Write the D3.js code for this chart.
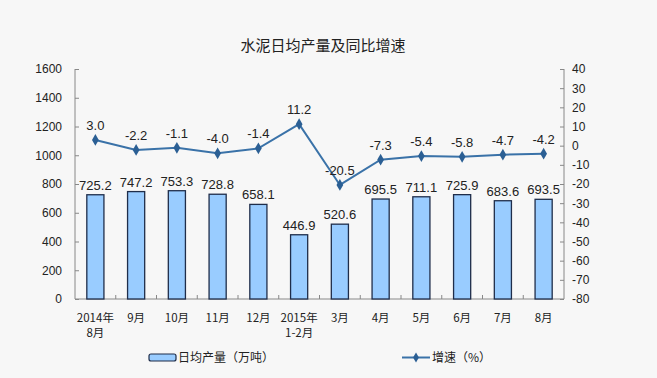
<!DOCTYPE html>
<html><head><meta charset="utf-8">
<script src="https://cdn.jsdelivr.net/npm/d3@7"></script>
<style>
body{margin:0;background:#f7f7f7;}
svg{display:block;}
text{font-family:"Liberation Sans",Arial,"Noto Sans CJK SC",sans-serif;}
.cjk{font-family:"Noto Sans CJK SC",sans-serif;}
</style></head>
<body>
<svg id="c" width="657" height="378"></svg>
<script>
const categories = [["2014年","8月"],["9月"],["10月"],["11月"],["12月"],["2015年","1-2月"],["3月"],["4月"],["5月"],["6月"],["7月"],["8月"]];
const output = [725.2,747.2,753.3,728.8,658.1,446.9,520.6,695.5,711.1,725.9,683.6,693.5];
const growth = [3.0,-2.2,-1.1,-4.0,-1.4,11.2,-20.5,-7.3,-5.4,-5.8,-4.7,-4.2];
const leftTicks = [0,200,400,600,800,1000,1200,1400,1600];
const rightTicks = [-80,-70,-60,-50,-40,-30,-20,-10,0,10,20,30,40];
const title = "水泥日均产量及同比增速";
const legendBar = "日均产量（万吨）";
const legendLine = "增速（%）";

const fmt1 = d => d.toFixed(1);
const fmt0 = d => String(d);

const svg = d3.select("#c");
const L=75, R=564, T=69, B=299;
const idx = d3.range(categories.length);
const x = d3.scaleBand().domain(idx).range([L,R]).paddingInner(0.58).paddingOuter(0.29);
const xb = d3.scaleBand().domain(idx).range([L,R]);
const yL = d3.scaleLinear().domain([0,1600]).range([B,T]);
const yR = d3.scaleLinear().domain([-80,40]).range([B,T]);

svg.append("text").attr("class","cjk").attr("x",323).attr("y",51).attr("text-anchor","middle")
  .attr("font-size",15).attr("fill","#222").text(title);

// left axis
const gl = svg.append("g").attr("transform",`translate(${L},0)`)
  .call(d3.axisRight(yL).tickValues(leftTicks).tickSize(4).tickFormat(fmt0));
gl.select(".domain").attr("stroke","#888").attr("d",`M0,${T}V${B}`);
gl.selectAll(".tick line").attr("stroke","#888");
gl.selectAll(".tick text").attr("x",-13).attr("text-anchor","end").attr("font-size",12).attr("fill","#222");

// right axis
const gr = svg.append("g").attr("transform",`translate(${R},0)`)
  .call(d3.axisLeft(yR).tickValues(rightTicks).tickSize(4).tickFormat(fmt0));
gr.select(".domain").attr("stroke","#888").attr("d",`M0,${T}V${B}`);
gr.selectAll(".tick line").attr("stroke","#888");
gr.selectAll(".tick text").attr("x",8).attr("text-anchor","start").attr("font-size",12).attr("fill","#222");

// x axis baseline
svg.append("line").attr("x1",L).attr("x2",R).attr("y1",B).attr("y2",B).attr("stroke","#888");
svg.append("g").selectAll("line").data(idx.slice(1)).join("line")
  .attr("x1",d=>xb(d)).attr("x2",d=>xb(d)).attr("y1",B).attr("y2",B-4).attr("stroke","#888");

// bars
svg.append("g").selectAll("rect").data(output).join("rect")
  .attr("x",(d,i)=>x(i)).attr("width",x.bandwidth())
  .attr("y",d=>yL(d)).attr("height",d=>B-yL(d))
  .attr("fill","#99ccff").attr("stroke","#1f2d4a").attr("stroke-width",1.3);
svg.append("g").selectAll("text").data(output).join("text")
  .attr("x",(d,i)=>x(i)+x.bandwidth()/2).attr("y",d=>yL(d)-5)
  .attr("text-anchor","middle").attr("font-size",13).attr("fill","#222")
  .text(fmt1);

// category labels
const cl = svg.append("g").selectAll("text").data(categories).join("text")
  .attr("class","cjk").attr("text-anchor","middle").attr("font-size",11.5).attr("fill","#222")
  .attr("transform",(d,i)=>`translate(${xb(i)+xb.bandwidth()/2},322)`);
cl.selectAll("tspan").data(d=>d).join("tspan").attr("x",0).attr("dy",(d,j)=>j?15:0).text(d=>d);

// line
const cx = i=>xb(i)+xb.bandwidth()/2;
svg.append("path").datum(growth)
  .attr("d",d3.line().x((d,i)=>cx(i)).y(d=>yR(d)))
  .attr("fill","none").attr("stroke","#3a72a8").attr("stroke-width",2);
svg.append("g").selectAll("path").data(growth).join("path")
  .attr("d",d3.symbol().type(d3.symbolDiamond).size(40))
  .attr("transform",(d,i)=>`translate(${cx(i)},${yR(d)})`).attr("fill","#2b5f94");
svg.append("g").selectAll("text").data(growth).join("text")
  .attr("x",(d,i)=>cx(i)).attr("y",d=>yR(d)-10)
  .attr("text-anchor","middle").attr("font-size",13).attr("fill","#222")
  .text(fmt1);

// legend
svg.append("rect").attr("x",149).attr("y",354).attr("width",27).attr("height",7).attr("rx",2)
  .attr("fill","#99ccff").attr("stroke","#1f2d4a").attr("stroke-width",1.2);
svg.append("text").attr("class","cjk").attr("x",178).attr("y",362).attr("font-size",12).attr("fill","#222").text(legendBar);
svg.append("line").attr("x1",402).attr("x2",430).attr("y1",357.5).attr("y2",357.5).attr("stroke","#3a72a8").attr("stroke-width",2);
svg.append("path").attr("d",d3.symbol().type(d3.symbolDiamond).size(30)()).attr("transform","translate(416,357.5)").attr("fill","#2b5f94");
svg.append("text").attr("class","cjk").attr("x",432).attr("y",362).attr("font-size",12).attr("fill","#222").text(legendLine);
</script>
</body></html>
